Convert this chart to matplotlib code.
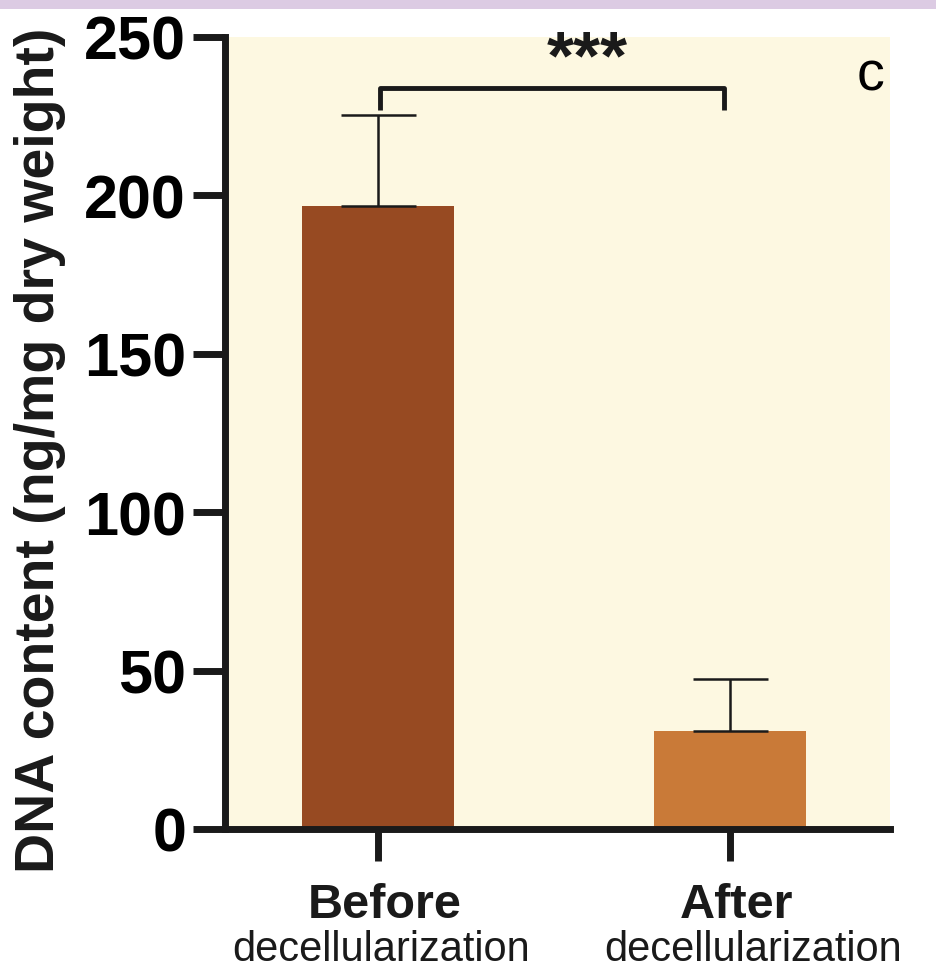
import matplotlib.pyplot as plt
from matplotlib.patches import Rectangle

groups = ['Before', 'After']
sublabels = ['decellularization', 'decellularization']
dna_mean = [196.5, 31.0]
dna_err = [29.0, 16.5]
bar_colors = ['#974a22', '#c97a38']
yticks = [0, 50, 100, 150, 200, 250]
stars = '***'
panel = 'c'

plt.rcParams['font.family'] = ['Liberation Sans Narrow', 'Liberation Sans', 'DejaVu Sans']

fig = plt.figure(figsize=(9.37, 9.78), dpi=100)
fig.patch.set_facecolor('white')
# strip of the neighbouring image at the very top
fig.patches.append(Rectangle((0, 1 - 10 / 978), 1, 10 / 978, transform=fig.transFigure,
                             facecolor='#dccbe3', edgecolor='none'))

ax = fig.add_axes([225 / 937, 1 - 830 / 978, (890 - 225) / 937, (830 - 38) / 978])
ax.set_facecolor('#fdf8e1')

x = [0, 1]
ax.bar(x, dna_mean, width=0.43, color=bar_colors, zorder=2)
ax.errorbar(x, dna_mean, yerr=[[0, 0], dna_err], fmt='none', ecolor='#1a1a1a',
            elinewidth=1.8, capsize=27, capthick=1.8, zorder=3)

ax.set_xlim(-0.435, 1.455)
ax.set_ylim(0, 250)
ax.set_yticks(yticks)
ax.set_yticklabels([str(t) for t in yticks], fontsize=44, fontweight='bold')
ax.set_xticks(x)
ax.set_xticklabels([])

for side in ['top', 'right']:
    ax.spines[side].set_visible(False)
for side in ['left', 'bottom']:
    ax.spines[side].set_linewidth(5)
    ax.spines[side].set_color('#1a1a1a')
ax.tick_params(axis='both', length=23, width=5, color='#1a1a1a', pad=5)
ax.spines['bottom'].set_zorder(4)

# significance bracket
ax.plot([0.005, 0.005, 0.983, 0.983], [227, 234, 234, 227], color='#1a1a1a',
        lw=3.5, solid_capstyle='butt', clip_on=False, zorder=4)
ax.text(0.594, 243, stars, ha='center', va='center', fontsize=50, fontweight='bold',
        color='#1a1a1a')
ax.text(1.40, 238, panel, ha='center', va='center', fontsize=40, color='black')

for xi, g in zip(x, groups):
    ax.text(xi + 0.02, -0.095, g, transform=ax.get_xaxis_transform(), ha='center',
            va='center', fontsize=35, fontweight='bold', color='#1a1a1a')
ax.text(0.01, -0.152, sublabels[0], transform=ax.get_xaxis_transform(), ha='center',
        va='center', fontsize=30, color='#1a1a1a')
ax.text(1.065, -0.152, sublabels[1], transform=ax.get_xaxis_transform(), ha='center',
        va='center', fontsize=30, color='#1a1a1a')

fig.text(40 / 937, 1 - 450 / 978, 'DNA content (ng/mg dry weight)', rotation=90,
         ha='center', va='center', fontsize=40, fontweight='bold', color='#1a1a1a')

fig.savefig('out.png', dpi=100)
